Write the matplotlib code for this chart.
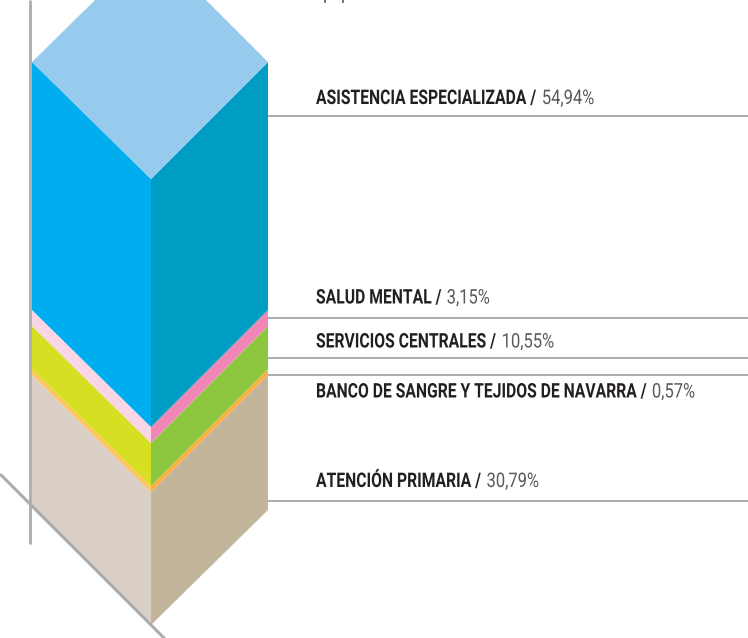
import matplotlib
matplotlib.use("Agg")
import matplotlib.pyplot as plt
from matplotlib.patches import Polygon
from matplotlib.patheffects import AbstractPathEffect
from matplotlib.text import Text
from matplotlib.transforms import Affine2D, Bbox

# etiquetas y porcentajes, de abajo hacia arriba
categorias = ["ATENCIÓN PRIMARIA", "BANCO DE SANGRE Y TEJIDOS DE NAVARRA",
              "SERVICIOS CENTRALES", "SALUD MENTAL", "ASISTENCIA ESPECIALIZADA"]
porcentajes = ["30,79%", "0,57%", "10,55%", "3,15%", "54,94%"]
# altura dibujada de cada tramo
alturas = [133, 6, 43, 16, 248]

colores_izq = ["#D9CFC7", "#FDC65D", "#D7DF23", "#F9D5E5", "#00AEEF"]
colores_der = ["#C2B59B", "#FBB040", "#8DC63F", "#F287B7", "#009EC4"]
color_tapa = "#96CBEE"
gris = "#ABACB0"

lineas_y = [501, 375, 358, 318, 116]
textos_y = [487, 397.5, 347.5, 303.5, 104]

x_izq, x_med, x_der = 32, 151, 268
y_base = 508
y_base_der = 510
caida = 117


# la fuente original es condensada: se estrecha el texto al dibujarlo
class Estrecho(AbstractPathEffect):
    def __init__(self, x0, escala):
        super().__init__()
        self.x0 = x0
        self.escala = escala

    def draw_path(self, renderer, gc, tpath, affine, rgbFace=None):
        aj = Affine2D().translate(-self.x0, 0).scale(self.escala, 1).translate(self.x0, 0)
        renderer.draw_path(gc, tpath, affine + aj, rgbFace)


class TextoEstrecho(Text):
    def __init__(self, x, y, texto, escala, **kw):
        super().__init__(x, y, texto, **kw)
        self.escala = escala
        self.set_path_effects([Estrecho(x, escala)])

    def get_window_extent(self, renderer=None, dpi=None):
        bb = super().get_window_extent(renderer, dpi)
        return Bbox.from_extents(bb.x0, bb.y0, bb.x0 + bb.width * self.escala, bb.y1)


fig = plt.figure(figsize=(7.48, 6.38), dpi=100)
ax = fig.add_axes([0, 0, 1, 1])
ax.set_xlim(0, 748)
ax.set_ylim(638, 0)
ax.axis("off")

# eje vertical y diagonal de la base
ax.plot([30.5, 30.5], [0, 544], color=gris, lw=2.0, solid_capstyle="butt", zorder=1)
ax.plot([0, 165], [474, 639], color=gris, lw=2.2, solid_capstyle="butt", zorder=3)

y = y_base
for i, (alt, ci, cd) in enumerate(zip(alturas, colores_izq, colores_der)):
    y2 = y - alt
    ax.add_patch(Polygon([(x_izq, y), (x_med, y + caida), (x_med, y2 + caida), (x_izq, y2)],
                         facecolor=ci, edgecolor="none", zorder=2))
    y_der = y_base_der if i == 0 else y
    ax.add_patch(Polygon([(x_med, y + caida), (x_der, y_der), (x_der, y2), (x_med, y2 + caida)],
                         facecolor=cd, edgecolor="none", zorder=2))
    y = y2

# tapa superior
ax.add_patch(Polygon([(x_izq, y), (x_med, y + caida), (x_der, y), (x_med, y - caida)],
                     facecolor=color_tapa, edgecolor="none", zorder=2))

# restos del rotulo cortado por el borde superior
ax.plot([325, 325], [0, 1.5], color="#58595B", lw=1.2, zorder=1)
ax.plot([343, 343], [0, 1.5], color="#58595B", lw=1.2, zorder=1)

fig.canvas.draw()
rend = fig.canvas.get_renderer()
esc_nombre = 0.78
esc_valor = 0.82
for cat, pct, ly, ty in zip(categorias, porcentajes, lineas_y, textos_y):
    ax.plot([x_der, 748], [ly, ly], color=gris, lw=1.4, solid_capstyle="butt", zorder=1)
    t = TextoEstrecho(316, ty, cat + " /", esc_nombre, family="Roboto", weight="bold",
                      fontsize=14.5, color="#231F20", va="baseline", ha="left")
    ax.add_artist(t)
    bb = t.get_window_extent(rend)
    v = TextoEstrecho(bb.x1 + 5.5, ty, pct, esc_valor, family="Roboto", weight="normal",
                      fontsize=14.5, color="#58595B", va="baseline", ha="left")
    ax.add_artist(v)

fig.savefig("out.png", dpi=100)
